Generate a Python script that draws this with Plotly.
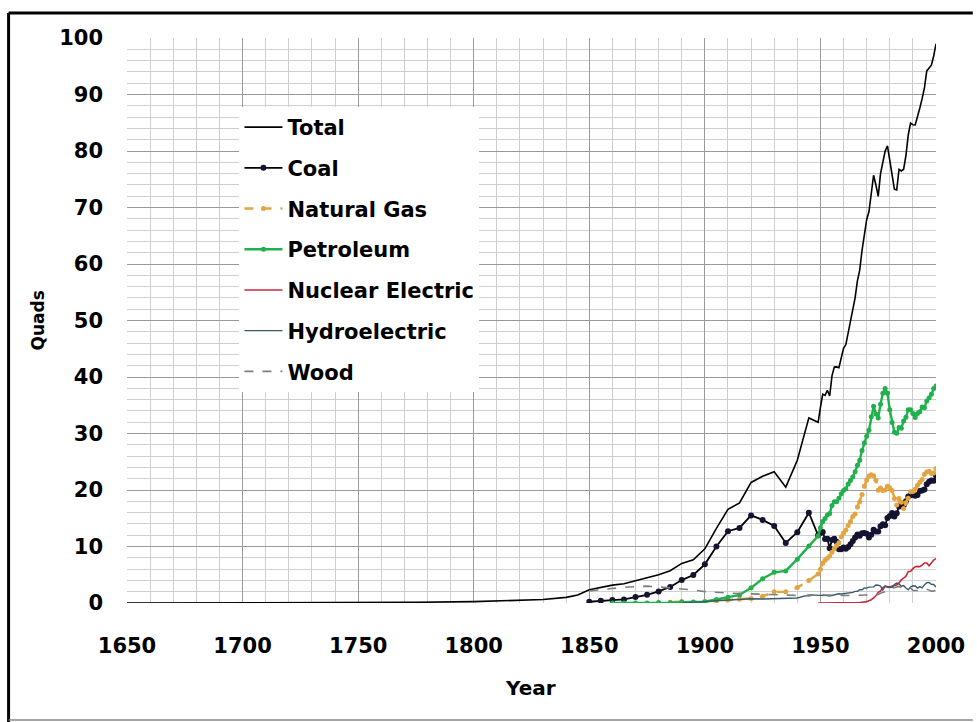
import plotly.graph_objects as go

# ---------------- data (quads) ----------------
years_pre = [1650, 1675, 1700, 1725, 1750, 1775, 1800, 1810, 1820, 1830, 1840, 1845]
total_pre = [0.002, 0.007, 0.017, 0.036, 0.065, 0.124, 0.24, 0.33, 0.45, 0.62, 1.0, 1.4]

years_hist = [1850, 1855, 1860, 1865, 1870, 1875, 1880, 1885, 1890, 1895,
              1900, 1905, 1910, 1915, 1920, 1925, 1930, 1935, 1940, 1945]
total_hist = [2.36, 2.78, 3.16, 3.40, 3.95, 4.43, 5.00, 5.71, 7.01, 7.66,
              9.59, 13.21, 16.57, 17.73, 21.34, 22.43, 23.24, 20.51, 25.26, 32.76]
coal_hist = [0.22, 0.42, 0.52, 0.63, 1.05, 1.44, 2.05, 2.84, 4.06, 4.95,
             6.84, 10.00, 12.71, 13.29, 15.50, 14.71, 13.64, 10.63, 12.54, 15.97]
gas_hist = [None, None, None, None, None, None, None, 0.14, 0.26, 0.15,
            0.25, 0.37, 0.54, 0.67, 0.81, 1.21, 1.97, 1.97, 2.73, 3.97]
petro_hist = [None, None, 0.0, 0.003, 0.011, 0.011, 0.10, 0.04, 0.16, 0.17,
              0.23, 0.61, 1.01, 1.42, 2.68, 4.28, 5.43, 5.68, 7.76, 10.11]
hydro_hist = [None, None, None, None, None, None, None, None, 0.02, 0.09,
              0.25, 0.39, 0.54, 0.66, 0.74, 0.70, 0.75, 0.83, 0.88, 1.44]
wood_hist = [2.14, 2.36, 2.64, 2.77, 2.89, 2.98, 2.85, 2.68, 2.52, 2.31,
             2.02, 1.84, 1.77, 1.69, 1.61, 1.53, 1.46, 1.40, 1.36, 1.26]

years_ann = [1949, 1950, 1951, 1952, 1953, 1954, 1955, 1956, 1957, 1958,
             1959, 1960, 1961, 1962, 1963, 1964, 1965, 1966, 1967, 1968,
             1969, 1970, 1971, 1972, 1973, 1974, 1975, 1976, 1977, 1978,
             1979, 1980, 1981, 1982, 1983, 1984, 1985, 1986, 1987, 1988,
             1989, 1990, 1991, 1992, 1993, 1994, 1995, 1996, 1997, 1998,
             1999, 2000]
total_ann = [31.98, 34.62, 36.97, 36.75, 37.66, 36.64, 40.21, 41.75, 41.79, 41.65,
             43.47, 45.09, 45.74, 47.83, 49.64, 51.81, 54.02, 57.01, 58.91, 62.42,
             65.62, 67.84, 69.29, 72.70, 75.71, 73.99, 71.97, 75.98, 77.96, 79.99,
             80.90, 78.29, 76.34, 73.25, 73.10, 76.74, 76.47, 76.78, 79.23, 82.84,
             84.94, 84.65, 84.61, 85.96, 87.60, 89.26, 91.17, 94.17, 94.77, 95.18,
             96.81, 98.97]
coal_ann = [11.98, 12.35, 12.55, 11.31, 11.37, 9.71, 11.17, 11.35, 10.82, 9.53,
            9.52, 9.84, 9.62, 9.91, 10.41, 10.96, 11.58, 12.14, 11.91, 12.33,
            12.38, 12.26, 11.60, 12.08, 12.97, 12.66, 12.66, 13.58, 13.92, 13.77,
            15.04, 15.42, 15.91, 15.32, 15.89, 17.07, 17.48, 17.26, 18.01, 18.85,
            19.07, 19.17, 18.99, 19.12, 19.84, 19.91, 20.09, 21.00, 21.45, 21.66,
            21.62, 22.58]
gas_ann = [5.15, 5.97, 7.05, 7.55, 7.91, 8.33, 9.00, 9.61, 10.19, 10.66,
           11.72, 12.39, 12.93, 13.73, 14.40, 15.29, 15.77, 16.99, 17.94, 19.21,
           20.68, 21.79, 22.47, 22.70, 22.51, 21.73, 19.95, 20.35, 19.93, 20.00,
           20.67, 20.39, 19.93, 18.51, 17.36, 18.51, 17.83, 16.71, 17.74, 18.55,
           19.71, 19.73, 20.15, 20.84, 21.35, 21.84, 22.78, 23.20, 23.33, 22.94,
           23.01, 23.82]
petro_ann = [11.88, 13.32, 14.43, 14.96, 15.56, 15.84, 17.25, 17.94, 17.93, 18.53,
             19.32, 19.92, 20.22, 21.05, 21.70, 22.30, 23.25, 24.40, 25.28, 26.98,
             28.34, 29.52, 30.56, 32.95, 34.84, 33.45, 32.73, 35.18, 37.12, 37.97,
             37.12, 34.20, 31.93, 30.23, 30.05, 31.05, 30.92, 32.20, 32.87, 34.22,
             34.21, 33.55, 32.85, 33.53, 33.84, 34.67, 34.55, 35.76, 36.27, 36.93,
             37.96, 38.40]
nuclear_ann = [0.0, 0.0, 0.0, 0.0, 0.0, 0.0, 0.0, 0.0, 0.0, 0.002,
               0.002, 0.006, 0.02, 0.03, 0.04, 0.04, 0.04, 0.06, 0.09, 0.14,
               0.15, 0.24, 0.41, 0.58, 0.91, 1.27, 1.90, 2.11, 2.70, 3.02,
               2.78, 2.74, 3.01, 3.13, 3.20, 3.55, 4.08, 4.38, 4.75, 5.59,
               5.60, 6.10, 6.42, 6.48, 6.41, 6.69, 7.08, 7.09, 6.60, 7.07,
               7.61, 7.86]
hydro_ann = [1.42, 1.42, 1.31, 1.34, 1.30, 1.25, 1.36, 1.48, 1.49, 1.63,
             1.59, 1.66, 1.68, 1.82, 1.77, 1.89, 2.06, 2.06, 2.35, 2.35,
             2.65, 2.63, 2.82, 2.86, 2.86, 3.18, 3.15, 2.98, 2.33, 2.94,
             2.93, 2.90, 2.76, 3.27, 3.53, 3.39, 2.97, 3.07, 2.64, 2.33,
             2.84, 3.05, 3.02, 2.62, 2.89, 2.68, 3.21, 3.59, 3.64, 3.30,
             3.27, 2.81]
wood_ann = [1.55, 1.56, 1.49, 1.42, 1.39, 1.36, 1.42, 1.37, 1.32, 1.35,
            1.35, 1.32, 1.29, 1.30, 1.32, 1.34, 1.34, 1.37, 1.34, 1.42,
            1.44, 1.43, 1.43, 1.50, 1.53, 1.54, 1.50, 1.71, 1.84, 2.04,
            2.15, 2.48, 2.60, 2.66, 2.90, 2.94, 2.69, 2.56, 2.46, 2.58,
            2.68, 2.22, 2.21, 2.28, 2.21, 2.32, 2.37, 2.44, 2.28, 2.11,
            2.15, 2.26]

x_ticks = [1650, 1700, 1750, 1800, 1850, 1900, 1950, 2000]
y_ticks = [0, 10, 20, 30, 40, 50, 60, 70, 80, 90, 100]

# ---------------- figure ----------------
W, H = 977, 722
L, R, T, B = 127, 940, 38, 603  # plot area in pixels


def px(xp):
    return (xp - L) / (R - L)


def py(yp):
    return (B - yp) / (B - T)


FONT = "DejaVu Sans"

fig = go.Figure()
years_all = years_pre + years_hist + years_ann

fig.add_trace(go.Scatter(x=years_all, y=total_pre + total_hist + total_ann,
                         name="Total", mode="lines",
                         line=dict(color="black", width=1.6),
                         legendgroup="a"))
fig.add_trace(go.Scatter(x=years_hist + years_ann, y=coal_hist + coal_ann,
                         name="Coal", mode="lines+markers",
                         line=dict(color="black", width=1.8),
                         marker=dict(color="#141432", size=6, symbol="circle"),
                         legendgroup="b"))
fig.add_trace(go.Scatter(x=years_hist + years_ann, y=gas_hist + gas_ann,
                         name="Natural Gas", mode="lines+markers",
                         line=dict(color="#E3A441", width=2.4, dash="dash"),
                         marker=dict(color="#E3A441", size=5, symbol="circle"),
                         legendgroup="c"))
fig.add_trace(go.Scatter(x=years_hist + years_ann, y=petro_hist + petro_ann,
                         name="Petroleum", mode="lines+markers",
                         line=dict(color="#20B04C", width=2.4),
                         marker=dict(color="#20B04C", size=5, symbol="circle"),
                         legendgroup="d"))
fig.add_trace(go.Scatter(x=years_ann, y=nuclear_ann,
                         name="Nuclear Electric", mode="lines",
                         line=dict(color="#C8283C", width=1.6),
                         legendgroup="e"))
fig.add_trace(go.Scatter(x=years_hist + years_ann, y=hydro_hist + hydro_ann,
                         name="Hydroelectric", mode="lines",
                         line=dict(color="#3A5A6A", width=1.4),
                         legendgroup="f"))
fig.add_trace(go.Scatter(x=years_hist + years_ann, y=wood_hist + wood_ann,
                         name="Wood", mode="lines",
                         line=dict(color="#7F7F7F", width=1.6, dash="dash"),
                         legendgroup="g"))

fig.update_layout(
    width=W, height=H,
    margin=dict(l=L, r=W - R, t=T, b=H - B, pad=0),
    paper_bgcolor="white", plot_bgcolor="white",
    font=dict(family=FONT, color="black", size=18, weight="bold"),
    showlegend=True,
    legend=dict(x=px(240), y=py(107), xanchor="left", yanchor="top",
                bgcolor="white", borderwidth=0,
                font=dict(family=FONT, size=21, color="black", weight="bold"),
                tracegroupgap=10.4, itemwidth=38,
                traceorder="grouped"),
    xaxis=dict(range=[1650, 2000], tickvals=x_ticks, ticktext=[str(v) for v in x_ticks],
               showgrid=True, gridcolor="#9a9a9a", gridwidth=1,
               minor=dict(dtick=10, showgrid=True, gridcolor="#cfcfcf", gridwidth=1),
               zeroline=False, showline=False, ticks="", ticklabelstandoff=28,
               tickfont=dict(family=FONT, size=21, color="black", weight="bold")),
    yaxis=dict(range=[0, 100], tickvals=y_ticks, ticktext=[str(v) for v in y_ticks],
               showgrid=True, gridcolor="#9a9a9a", gridwidth=1,
               minor=dict(dtick=2, showgrid=True, gridcolor="#cfcfcf", gridwidth=1),
               zeroline=False, showline=False, ticks="", ticklabelstandoff=23,
               tickfont=dict(family=FONT, size=21, color="black", weight="bold")),
    annotations=[
        dict(text="Quads", x=px(38), y=py(320), xref="paper", yref="paper",
             xanchor="center", yanchor="middle",
             showarrow=False, textangle=-90,
             font=dict(family=FONT, size=17, color="black", weight="bold")),
        dict(text="Year", x=px(532), y=py(688), xref="paper", yref="paper",
             xanchor="center", yanchor="middle",
             showarrow=False,
             font=dict(family=FONT, size=20, color="black", weight="bold")),
    ],
    shapes=[
        dict(type="line", xref="paper", yref="paper", x0=px(8), x1=px(977), y0=py(13), y1=py(13),
             line=dict(color="black", width=3)),
        dict(type="line", xref="paper", yref="paper", x0=px(8), x1=px(8), y0=py(13), y1=py(722),
             line=dict(color="black", width=3)),
        dict(type="line", xref="paper", yref="paper", x0=px(8), x1=px(977), y0=py(720), y1=py(720),
             line=dict(color="#888888", width=1.5)),
    ],
)

fig.write_html("out.html", config={"displayModeBar": False},
               post_script="document.body.style.margin='0';document.body.style.overflow='hidden';")
